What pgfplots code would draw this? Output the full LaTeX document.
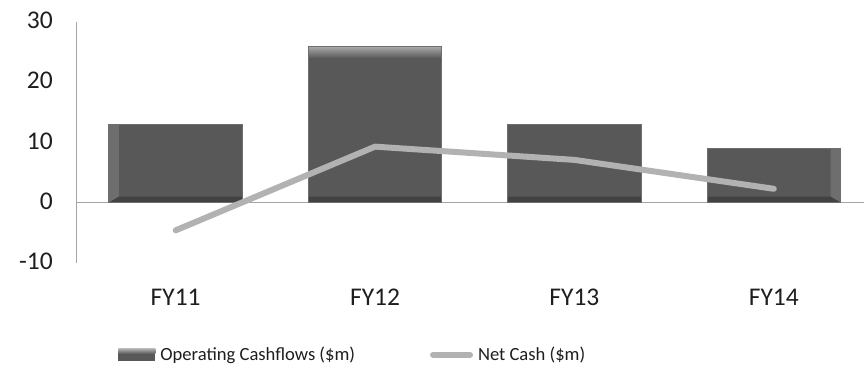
\documentclass[border=0pt]{standalone}
\usepackage{fontspec}
\setmainfont{Carlito}
\usepackage{pgfplots}
\pgfplotsset{compat=1.18}

\definecolor{barbody}{RGB}{88,88,88}
\definecolor{barlight}{RGB}{172,172,172}
\definecolor{barside}{RGB}{110,110,110}
\definecolor{bardark}{RGB}{66,66,66}
\definecolor{netline}{RGB}{178,178,178}
\definecolor{axisgray}{RGB}{165,165,165}
\definecolor{txt}{RGB}{30,30,30}

% bevelled bar face
\tikzset{
  inner/.style={path picture={}, draw=none},
  bevel/.style={
    fill=barbody, draw=barside, line width=0.8bp,
    path picture={
      \fill[inner, barside] (path picture bounding box.north west)
        -- ([xshift=10bp,yshift=-12bp]path picture bounding box.north west)
        -- ([xshift=10bp,yshift=6bp]path picture bounding box.south west)
        -- (path picture bounding box.south west) -- cycle;
      \fill[inner, barside] (path picture bounding box.north east)
        -- ([xshift=-10bp,yshift=-12bp]path picture bounding box.north east)
        -- ([xshift=-10bp,yshift=6bp]path picture bounding box.south east)
        -- (path picture bounding box.south east) -- cycle;
      \fill[inner, bardark] (path picture bounding box.south west)
        -- ([xshift=10bp,yshift=6bp]path picture bounding box.south west)
        -- ([xshift=-10bp,yshift=6bp]path picture bounding box.south east)
        -- (path picture bounding box.south east) -- cycle;
      \shade[inner, top color=barlight, bottom color=barbody]
        (path picture bounding box.north west)
        -- (path picture bounding box.north east)
        -- ([xshift=-10bp,yshift=-12bp]path picture bounding box.north east)
        -- ([xshift=10bp,yshift=-12bp]path picture bounding box.north west) -- cycle;
    }
  }
}

\pgfplotstableread{
x ocf net
0 13 -4.6
1 26 9.3
2 13 7.1
3 9 2.3
}\cashdata

\begin{document}
\begin{tikzpicture}
\path (-76bp,-111bp) rectangle (788bp,263bp);
\begin{axis}[
  at={(0,0)}, anchor=south west,
  scale only axis,
  width=788bp, height=241bp,
  xmin=-0.5, xmax=3.45,
  ymin=-10, ymax=30,
  ytick={-10,0,10,20,30},
  xtick=data,
  xticklabels={FY11,FY12,FY13,FY14},
  axis lines*=left,
  x axis line style={draw=none},
  y axis line style={draw=axisgray, line width=0.9bp, -},
  major tick length=0pt,
  tick style={draw=none},
  /pgf/number format/assume math mode=true,
  font=\fontsize{25.5bp}{30bp}\selectfont,
  ticklabel style={text=txt},
  yticklabel style={anchor=east, inner sep=0pt, xshift=-23bp, yshift=1.5bp},
  xticklabel style={anchor=base, inner sep=0pt, yshift=-43bp},
  clip=false,
  legend columns=2,
  legend style={
    draw=none, fill=none,
    at={(rel axis cs:0.3515,-0.382)}, anchor=center,
    font=\fontsize{18.6bp}{23bp}\selectfont, text=txt,
    /tikz/every odd column/.append style={column sep=3bp},
    /tikz/every even column/.append style={column sep=73bp},
    inner sep=0pt, cells={anchor=west},
  },
]
% zero line
\draw[axisgray, line width=0.9bp] (rel axis cs:0,0.25) -- (rel axis cs:1,0.25);

\addplot[ybar, bar width=0.67, bevel,
  legend image code/.code={
    \fill[inner, barbody] (0bp,-6bp) rectangle (37bp,6bp);
    \shade[inner, top color=barlight, bottom color=barbody] (0bp,6bp) rectangle (37bp,1bp);
  }] table[x=x, y=ocf] {\cashdata};
\addlegendentry{Operating Cashflows (\$m)}

\addplot[netline, line width=6bp, line cap=round, line join=round,
  legend image code/.code={
    \draw[netline, line width=6bp, line cap=round] (0bp,0bp) -- (37bp,0bp);
  }] table[x=x, y=net] {\cashdata};
\addlegendentry{Net Cash (\$m)}
\end{axis}
\end{tikzpicture}
\end{document}
